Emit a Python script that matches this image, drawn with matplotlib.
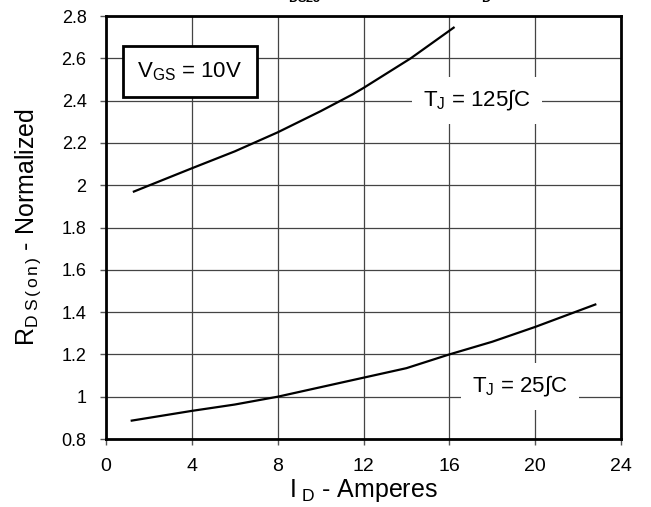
import matplotlib
matplotlib.use("Agg")
import matplotlib.pyplot as plt
import numpy as np

plt.rcParams["font.family"] = ["Liberation Sans", "DejaVu Sans"]
plt.rcParams["mathtext.fontset"] = "custom"
plt.rcParams["mathtext.rm"] = "Liberation Sans"
plt.rcParams["mathtext.bf"] = "Liberation Sans:bold"
plt.rcParams["mathtext.it"] = "Liberation Sans:italic"

# drain current (A) and normalized R_DS(on)
id_125 = [1.3, 4.0, 6.0, 8.0, 10.0, 11.5, 12.0, 14.2, 16.2]
r_125 = [1.97, 2.08, 2.16, 2.25, 2.35, 2.43, 2.46, 2.60, 2.745]
id_25 = [1.2, 4.0, 6.0, 8.0, 10.0, 12.0, 14.0, 16.0, 18.0, 20.0, 22.8]
r_25 = [0.887, 0.933, 0.963, 1.0, 1.045, 1.09, 1.135, 1.2, 1.26, 1.33, 1.436]

xticks = [0, 4, 8, 12, 16, 20, 24]
yticks = [0.8, 1.0, 1.2, 1.4, 1.6, 1.8, 2.0, 2.2, 2.4, 2.6, 2.8]
yticklabels = ["0.8", "1", "1.2", "1.4", "1.6", "1.8", "2", "2.2", "2.4", "2.6", "2.8"]

fig = plt.figure(figsize=(6.51, 5.07), dpi=100)
ax = fig.add_axes([0.1628, 0.1341, 0.7912, 0.8343])

ax.plot(id_125, r_125, color="black", lw=1.6, zorder=3)
ax.plot(id_25, r_25, color="black", lw=1.6, zorder=3)

ax.set_xlim(0, 24)
ax.set_ylim(0.8, 2.8)
ax.set_xticks(xticks)
ax.set_yticks(yticks)
ax.set_yticklabels(yticklabels)
ax.tick_params(direction="out", length=4, width=1, color="#555555")
ax.tick_params(axis="x", labelsize=14, pad=10)
ax.tick_params(axis="y", labelsize=13, pad=10)
ax.grid(True, color="#444444", lw=0.9)
ax.set_axisbelow(True)
for sp in ax.spines.values():
    sp.set_linewidth(2)

ax.set_xlabel(r"I$_{\ \mathrm{D}}$ - Amperes", fontsize=18, labelpad=1)
ax.set_ylabel(r"R$_{\mathrm{D\ S\,(\,o\,n\,)}}$ - Normalized", fontsize=18, labelpad=13)

# annotations
ax.text(3.9, 2.537, r"V$_{\mathrm{GS}}$ = 10V", fontsize=16, ha="center", va="center",
        zorder=4, bbox=dict(boxstyle="square,pad=0.65", fc="white", ec="black", lw=2))
ax.text(17.3, 2.40, r"T$_{\mathrm{J}}$ = 125∫C", fontsize=16, ha="center", va="center",
        zorder=2.5, bbox=dict(boxstyle="square,pad=0.5", fc="white", ec="none"))
ax.text(19.3, 1.05, r"T$_{\mathrm{J}}$ = 25∫C", fontsize=16, ha="center", va="center",
        zorder=2.5, bbox=dict(boxstyle="square,pad=0.5", fc="white", ec="none"))

# title, mostly cut off by the top edge in the original
fig.text(0.545, 1.001, r"Norm. R$_{\mathbf{DS25}}$ vs. Drain Current I$_{\mathbf{D}}$",
         fontsize=13, fontweight="bold", ha="center", va="baseline")

fig.savefig("out.png", dpi=100)
